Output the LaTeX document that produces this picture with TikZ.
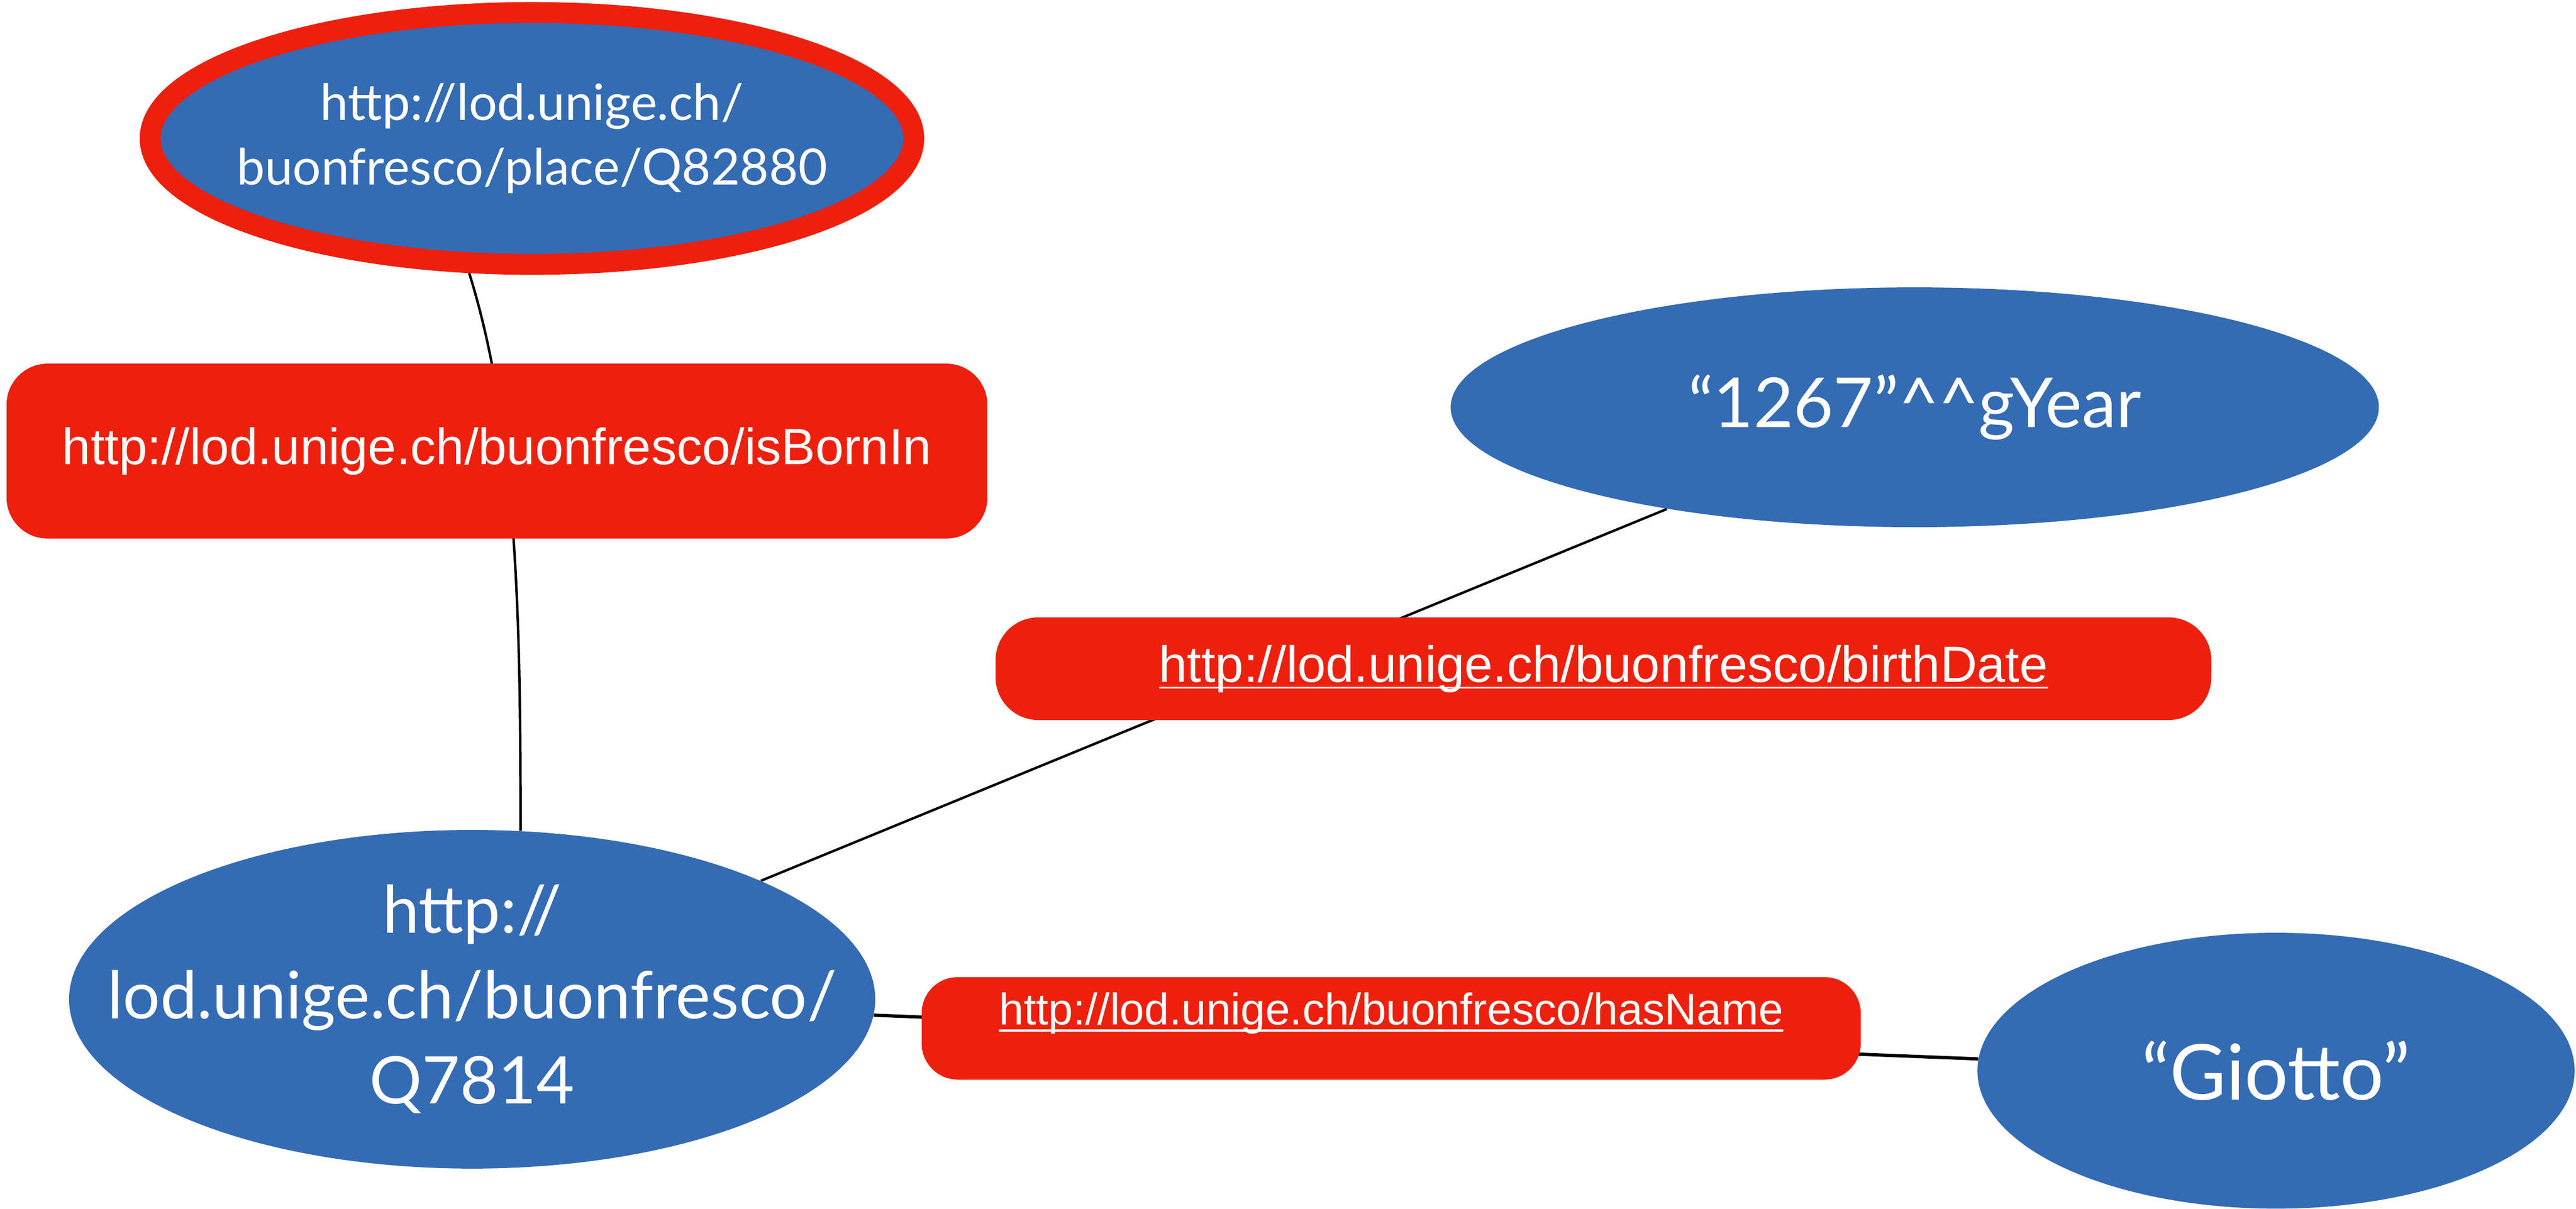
\documentclass[tikz,border=0pt]{standalone}
\usepackage{fontspec}
\setmainfont{Lato}
\newfontfamily\predfont{Liberation Sans}
\usepackage{tikz}
\usetikzlibrary{
	backgrounds,									% 定义图片背景
	shapes.geometric,								% 几何形状
}
\definecolor{resblue}{RGB}{51,107,180}
\definecolor{predred}{RGB}{237,32,14}
\newcommand{\predlink}[1]{\setbox0\hbox{#1}\rlap{\rule[-4.2pt]{\wd0}{1.3pt}}\box0}
\tikzset{
	resource/.style={ellipse, fill=resblue, text=white, align=center, inner sep=0pt},
	predicate/.style={rectangle, fill=predred, text=white, inner xsep=0pt,
		font=\predfont\fontsize{31}{36}\selectfont},
	link/.style={black, line width=1.5pt},
}

\begin{document}
\begin{tikzpicture}[x=1pt, y=-1pt]
		\useasboundingbox (0,0) rectangle (1568,736);
		\node[resource, draw=predred, line width=12.7pt, minimum width=464.8pt, minimum height=153.4pt,
			inner xsep=-30pt, font=\fontsize{30.5}{39.6}\selectfont] (place) at (323.8,84.3)
			{http://lod.unige.ch/\\buonfresco/place/Q82880};
		\node[predicate, minimum width=597pt, minimum height=106.5pt, rounded corners=25pt]
			(isBornIn) at (302.5,274.7) {http://lod.unige.ch/buonfresco/isBornIn};
		\node[resource, minimum width=565pt, minimum height=146pt,
			font=\fontsize{42}{50}\selectfont] (year) at (1165.5,248)
			{“1267”\textasciicircum\textasciicircum gYear};
		\node[predicate, minimum width=740pt, minimum height=62.5pt, rounded corners=26pt]
			(birthDate) at (976,407.2) {\predlink{http://lod.unige.ch/buonfresco/birthDate}};
		\node[resource, minimum width=490.7pt, minimum height=206.2pt, inner xsep=-60pt, inner ysep=-12pt,
			font=\fontsize{40}{52}\selectfont] (subject) at (287.4,608.5)
			{http://\\lod.unige.ch/buonfresco/\\Q7814};
		\node[predicate, minimum width=571.6pt, minimum height=62.4pt, rounded corners=22pt,
			inner ysep=6pt, text height=23pt, text depth=27.4pt,
			font=\predfont\fontsize{27}{32}\selectfont] (hasName) at (846.8,626.2)
			{\predlink{http://lod.unige.ch/buonfresco/hasName}};
		\node[resource, minimum width=363.5pt, minimum height=168pt,
			font=\fontsize{47}{54}\selectfont] (giotto) at (1385.4,652) {“Giotto”};
		\begin{scope}[on background layer]
			\draw[link] (place.245) .. controls (315,260) and (317,380) .. (subject.74);
			\draw[link] (subject) -- (year);
			\draw[link, line width=2pt] (subject) -- (giotto);
		\end{scope}
	\end{tikzpicture}
\end{document}
